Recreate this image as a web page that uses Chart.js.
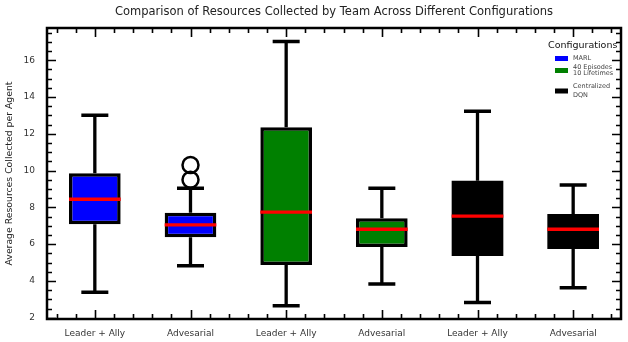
<!DOCTYPE html>
<html>
<head>
<meta charset="utf-8">
<script src="https://cdn.jsdelivr.net/npm/chart.js@4"></script>
<style>
  html, body { margin: 0; padding: 0; background: #fff; }
  #wrap { width: 628px; height: 342px; }
</style>
</head>
<body>
<div id="wrap"><canvas id="myChart" width="628" height="342"></canvas></div>
<script>
// datos del grafico
const categories = ['Leader + Ally', 'Advesarial', 'Leader + Ally', 'Advesarial', 'Leader + Ally', 'Advesarial'];
const configs = [['MARL'], ['40 Episodes', '10 Lifetimes'], ['Centralized', 'DQN']];
const colors = ['#0000ff', '#008000', '#000000'];

const whiskerLow  = [3.39, 4.82, 2.65, 3.83, 2.83, 3.63];
const q1          = [7.08, 6.38, 4.86, 5.84, 5.36, 5.74];
const median      = [8.44, 7.05, 7.74, 6.81, 7.52, 6.81];
const q3          = [9.85, 7.71, 12.36, 7.41, 9.45, 7.64];
const whiskerHigh = [13.0, 9.04, 17.01, 9.04, 13.23, 9.22];
const outliers    = [[], [9.5, 10.3], [], [], [], []];

const yTickVals = [2, 4, 6, 8, 10, 12, 14, 16];

const TITLE = 'Comparison of Resources Collected by Team Across Different Configurations';
const FONT = 'DejaVu Sans';

// un dataset por configuracion, cada uno ocupa sus dos categorias
const datasets = configs.map((c, k) => ({
	label: c.join(' '),
	data: categories.map((_, i) => Math.floor(i / 2) === k ? [q1[i], q3[i]] : null),
	backgroundColor: colors[k],
	borderColor: '#000',
	borderWidth: colors[k] === '#000000' ? 0 : 3.5,
	borderSkipped: false,
	barPercentage: 0.54,
	categoryPercentage: 1,
	grouped: false
}));

const boxExtras = {
	id: 'boxExtras',
	afterDatasetsDraw(chart) {
		const ctx = chart.ctx;
		const x = chart.scales.x, y = chart.scales.y;
		const step = x.getPixelForValue(1) - x.getPixelForValue(0);
		const half = step * 0.54 / 2;
		ctx.save();
		categories.forEach((_, i) => {
			const cx = x.getPixelForValue(i);
			// bigotes
			ctx.strokeStyle = '#000';
			ctx.lineWidth = 3.3;
			ctx.beginPath();
			ctx.moveTo(cx, y.getPixelForValue(whiskerLow[i]));
			ctx.lineTo(cx, y.getPixelForValue(q1[i]));
			ctx.moveTo(cx, y.getPixelForValue(q3[i]));
			ctx.lineTo(cx, y.getPixelForValue(whiskerHigh[i]));
			ctx.stroke();
			// topes
			ctx.lineWidth = 3.5;
			ctx.beginPath();
			ctx.moveTo(cx - 13.5, y.getPixelForValue(whiskerLow[i]));
			ctx.lineTo(cx + 13.5, y.getPixelForValue(whiskerLow[i]));
			ctx.moveTo(cx - 13.5, y.getPixelForValue(whiskerHigh[i]));
			ctx.lineTo(cx + 13.5, y.getPixelForValue(whiskerHigh[i]));
			ctx.stroke();
			// mediana
			ctx.strokeStyle = '#ff0000';
			ctx.lineWidth = 3.3;
			ctx.beginPath();
			ctx.moveTo(cx - half, y.getPixelForValue(median[i]));
			ctx.lineTo(cx + half, y.getPixelForValue(median[i]));
			ctx.stroke();
			// atipicos
			ctx.strokeStyle = '#000';
			ctx.lineWidth = 2.5;
			outliers[i].forEach(v => {
				ctx.beginPath();
				ctx.arc(cx, y.getPixelForValue(v), 8, 0, Math.PI * 2);
				ctx.stroke();
			});
		});
		ctx.restore();
	},
	afterDraw(chart) {
		const ctx = chart.ctx;
		const a = chart.chartArea;
		const x = chart.scales.x, y = chart.scales.y;
		ctx.save();
		ctx.strokeStyle = '#000';
		// marcas del eje y (hacia dentro, ambos lados)
		ctx.lineWidth = 1.6;
		ctx.beginPath();
		for (let v = 2; v <= y.max; v += 0.5) {
			const py = Math.round(y.getPixelForValue(v)) + 0.5;
			const len = (v % 2 === 0) ? 9 : 5;
			ctx.moveTo(a.left, py); ctx.lineTo(a.left + len, py);
			ctx.moveTo(a.right, py); ctx.lineTo(a.right - len, py);
		}
		// marcas del eje x
		const step = x.getPixelForValue(1) - x.getPixelForValue(0);
		for (let t = -0.4; t <= 5.45; t += 0.2) {
			const px = Math.round(x.getPixelForValue(0) + t * step) + 0.5;
			if (px < a.left || px > a.right) continue;
			const major = Math.abs(t - Math.round(t)) < 0.01;
			const len = major ? 9 : 5;
			ctx.moveTo(px, a.top); ctx.lineTo(px, a.top + len);
			ctx.moveTo(px, a.bottom); ctx.lineTo(px, a.bottom - len);
		}
		ctx.stroke();
		// marco
		ctx.lineWidth = 2.5;
		ctx.strokeRect(a.left, a.top, a.right - a.left, a.bottom - a.top);

		// titulo centrado sobre el area del grafico
		ctx.fillStyle = '#222';
		ctx.font = `11.5px "${FONT}"`;
		ctx.textAlign = 'center';
		ctx.textBaseline = 'middle';
		ctx.fillText(TITLE, (a.left + a.right) / 2, 12);

		// leyenda
		const lx = 555, ty = 46;
		ctx.fillStyle = '#111';
		ctx.font = `9.5px "${FONT}"`;
		ctx.textAlign = 'left';
		ctx.fillText('Configurations', 548, ty);
		const rows = [58.5, 70.5, 91];
		ctx.font = `6.5px "${FONT}"`;
		configs.forEach((c, k) => {
			ctx.fillStyle = colors[k];
			ctx.fillRect(lx, rows[k] - 2.5, 13, 5);
			ctx.fillStyle = '#444';
			const lh = c.length > 1 ? (k === 2 ? 8.5 : 6) : 0;
			c.forEach((line, j) => {
				ctx.fillText(line, 573, rows[k] - lh / 2 + j * lh);
			});
		});
		ctx.restore();
	}
};

const ctx = document.getElementById('myChart').getContext('2d');
const myChart = new Chart(ctx, {
	type: 'bar',
	data: { labels: categories, datasets: datasets },
	options: {
		responsive: false,
		animation: false,
		layout: { padding: { left: 0, right: 7, top: 28, bottom: 0 } },
		plugins: {
			legend: { display: false },
			tooltip: { enabled: false },
			title: { display: false }
		},
		scales: {
			x: {
				grid: { display: false, drawTicks: false },
				border: { display: false },
				ticks: { color: '#333', padding: 9, font: { family: FONT, size: 9 } },
				afterFit: s => { s.height = 23; }
			},
			y: {
				min: 1.93,
				max: 17.75,
				afterBuildTicks: s => { s.ticks = yTickVals.map(v => ({ value: v })); },
				grid: { display: false, drawTicks: false },
				border: { display: false },
				ticks: { color: '#333', padding: 12, font: { family: FONT, size: 9 } },
				title: {
					display: true,
					text: 'Average Resources Collected per Agent',
					color: '#222',
					font: { family: FONT, size: 9.3 },
					padding: { top: 4, bottom: 0 }
				},
				afterFit: s => { s.width = 47; }
			}
		}
	},
	plugins: [boxExtras]
});
</script>
</body>
</html>
